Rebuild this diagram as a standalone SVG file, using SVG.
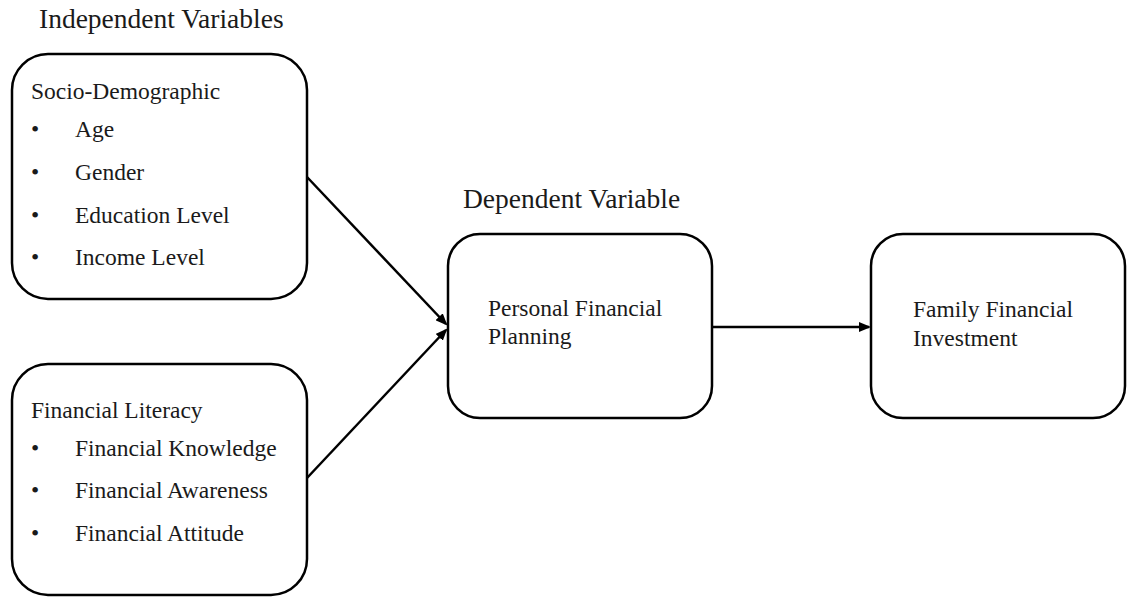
<svg xmlns="http://www.w3.org/2000/svg" width="1127" height="597" viewBox="0 0 1127 597">
  <style>
    .box { fill: #ffffff; stroke: #000000; stroke-width: 2.5; }
    .head { font-family: 'Liberation Serif', 'DejaVu Serif', serif; font-size: 27.5px; fill: #1a1a1a; }
    .txt { font-family: 'Liberation Serif', 'DejaVu Serif', serif; font-size: 23.5px; fill: #1a1a1a; }
    .edge { stroke: #000000; stroke-width: 2.5; fill: none; marker-end: url(#arrow); }
  </style>
  <defs>
    <marker id="arrow" markerWidth="12" markerHeight="10" refX="10" refY="5" orient="auto" markerUnits="userSpaceOnUse">
      <path d="M0,0 L12,5 L0,10 Z" fill="#000000"/>
    </marker>
  </defs>
  <rect width="1127" height="597" fill="#ffffff"/>

  <!-- section headings -->
  <text class="head" x="39" y="28">Independent Variables</text>
  <text class="head" x="463" y="208">Dependent Variable</text>

  <!-- connectors -->
  <g id="connectors">
    <line class="edge" x1="307" y1="177" x2="446" y2="324"/>
    <line class="edge" x1="307" y1="478" x2="446" y2="330"/>
    <line class="edge" x1="712" y1="327" x2="869" y2="327"/>
  </g>

  <g id="socio-demographic">
    <rect class="box" x="12" y="54" width="295" height="245" rx="36" ry="36"/>
    <text class="txt" x="31" y="99">Socio-Demographic</text>
    <text class="txt" x="31" y="137">•</text><text class="txt" x="75" y="137">Age</text>
    <text class="txt" x="31" y="180">•</text><text class="txt" x="75" y="180">Gender</text>
    <text class="txt" x="31" y="223">•</text><text class="txt" x="75" y="223">Education Level</text>
    <text class="txt" x="31" y="265">•</text><text class="txt" x="75" y="265">Income Level</text>
  </g>

  <g id="financial-literacy">
    <rect class="box" x="12" y="364" width="295" height="231" rx="36" ry="36"/>
    <text class="txt" x="31" y="418">Financial Literacy</text>
    <text class="txt" x="31" y="456">•</text><text class="txt" x="75" y="456">Financial Knowledge</text>
    <text class="txt" x="31" y="498">•</text><text class="txt" x="75" y="498">Financial Awareness</text>
    <text class="txt" x="31" y="541">•</text><text class="txt" x="75" y="541">Financial Attitude</text>
  </g>

  <g id="personal-financial-planning">
    <rect class="box" x="448" y="234" width="264" height="184" rx="32" ry="32"/>
    <text class="txt" x="488" y="316">Personal Financial</text>
    <text class="txt" x="488" y="344">Planning</text>
  </g>

  <g id="family-financial-investment">
    <rect class="box" x="871" y="234" width="254" height="184" rx="32" ry="32"/>
    <text class="txt" x="913" y="317">Family Financial</text>
    <text class="txt" x="913" y="346">Investment</text>
  </g>
</svg>
